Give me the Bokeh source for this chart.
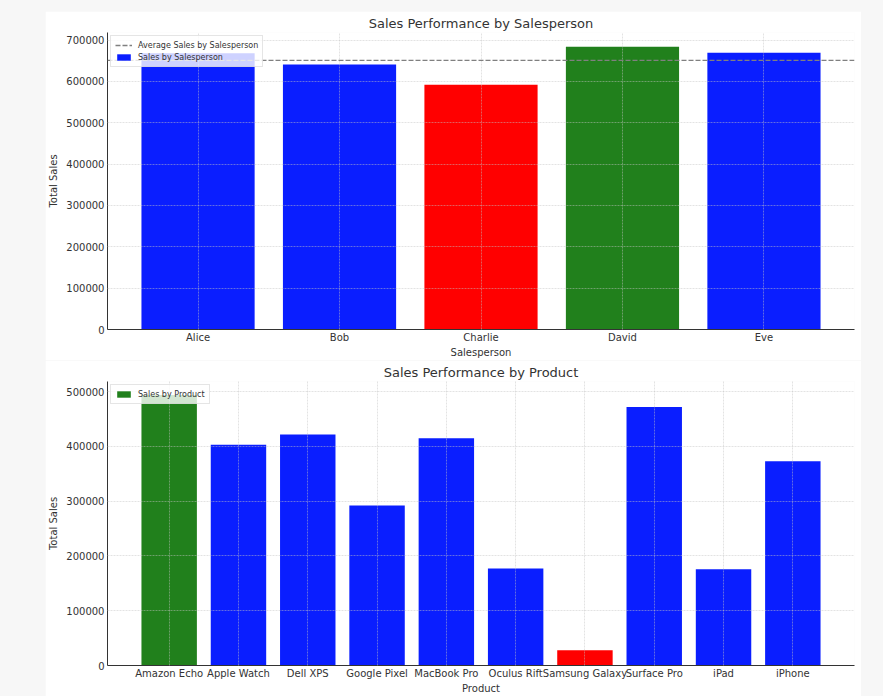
from bokeh.plotting import figure
from bokeh.models import (FactorRange, Range1d, Span, Legend, LegendItem,
                          FixedTicker, BasicTickFormatter)
from bokeh.layouts import column
from bokeh.embed import file_html
from bokeh.resources import INLINE

# ---------------- data ----------------
salespeople = ["Alice", "Bob", "Charlie", "David", "Eve"]
salesperson_sales = [668000, 641000, 592000, 684000, 669000]

products = ["Amazon Echo", "Apple Watch", "Dell XPS", "Google Pixel", "MacBook Pro",
            "Oculus Rift", "Samsung Galaxy", "Surface Pro", "iPad", "iPhone"]
product_sales = [494000, 403000, 422000, 292000, 415000,
                 177000, 28000, 472000, 176000, 373000]

top_y_ticks = [0, 100000, 200000, 300000, 400000, 500000, 600000, 700000]
bottom_y_ticks = [0, 100000, 200000, 300000, 400000, 500000]

# ---------------- style ----------------
BLUE = "#0a1eff"
GREEN = "#21801c"
RED = "#ff0000"
TEXT = "#333333"
FONT = "DejaVu Sans"


def bar_colors(vals):
    hi, lo = max(vals), min(vals)
    return [GREEN if v == hi else (RED if v == lo else BLUE) for v in vals]


def make_fig(cats, vals, ticks, title, xlabel, height, min_top, min_bottom):
    n = len(cats)
    margin = 0.05 * (n - 1 + 0.8)
    xr = FactorRange(factors=cats, range_padding=margin - 0.1,
                     range_padding_units="absolute")
    yr = Range1d(0, max(vals) * 1.05)
    p = figure(width=816, height=height, x_range=xr, y_range=yr,
               output_backend="svg", toolbar_location=None,
               min_border_left=60, min_border_right=7,
               min_border_top=min_top, min_border_bottom=min_bottom,
               background_fill_color="white", border_fill_color="white")
    p.outline_line_color = None
    p.title.text = title
    p.title.align = "center"
    p.title.text_font = FONT
    p.title.text_font_size = "13px"
    p.title.text_font_style = "normal"
    p.title.text_color = TEXT
    p.title.standoff = 4

    for ax in (p.xaxis, p.yaxis):
        ax.axis_line_color = "#333333"
        ax.axis_line_width = 1
        ax.major_tick_out = 0
        ax.major_tick_in = 0
        ax.minor_tick_out = 0
        ax.minor_tick_in = 0
        ax.major_label_text_font = FONT
        ax.major_label_text_font_size = "10px"
        ax.major_label_text_color = TEXT
        ax.axis_label_text_font = FONT
        ax.axis_label_text_font_size = "10px"
        ax.axis_label_text_font_style = "normal"
        ax.axis_label_text_color = TEXT
        ax.major_label_standoff = 2
        ax.axis_label_standoff = 1
    p.yaxis.major_label_standoff = 3
    p.yaxis.axis_label_standoff = 4

    p.yaxis.ticker = FixedTicker(ticks=ticks)
    p.yaxis.formatter = BasicTickFormatter(use_scientific=False)
    p.yaxis.axis_label = "Total Sales"
    p.xaxis.axis_label = xlabel

    for g in (p.xgrid, p.ygrid):
        g.grid_line_color = "#c4c4c4"
        g.grid_line_alpha = 0.6
        g.grid_line_dash = "2 1"
        g.grid_line_width = 0.8
        g.level = "annotation"

    r = p.vbar(x=cats, top=vals, width=0.8, fill_color=bar_colors(vals),
               line_color=None)
    return p, r


def style_legend(leg):
    leg.location = "top_left"
    leg.margin = 3
    leg.padding = 4
    leg.spacing = 2
    leg.label_text_font = FONT
    leg.label_text_font_size = "8px"
    leg.label_text_color = TEXT
    leg.label_height = 10
    leg.glyph_height = 8
    leg.glyph_width = 17
    leg.label_standoff = 6
    leg.background_fill_alpha = 0.8
    leg.border_line_color = "#cccccc"
    leg.border_line_width = 1


# ---------------- top chart ----------------
p1, r1 = make_fig(salespeople, salesperson_sales, top_y_ticks,
                  "Sales Performance by Salesperson", "Salesperson",
                  349, 20, 29)
avg = sum(salesperson_sales) / len(salesperson_sales)
span = Span(location=avg, dimension="width", line_color="#808080",
            line_dash="5 2", line_width=1.3)
p1.add_layout(span)
# single-point line: draws no segment, only supplies the legend glyph
avg_proxy = p1.line(x=[salespeople[0]], y=[avg], line_color="#808080",
                    line_dash="5 2", line_width=1.3)
leg1 = Legend(items=[
    LegendItem(label="Average Sales by Salesperson", renderers=[avg_proxy]),
    LegendItem(label="Sales by Salesperson", renderers=[r1], index=0),
])
style_legend(leg1)
p1.add_layout(leg1, "center")

# ---------------- bottom chart ----------------
p2, r2 = make_fig(products, product_sales, bottom_y_ticks,
                  "Sales Performance by Product", "Product",
                  336, 21, 18)
leg2 = Legend(items=[LegendItem(label="Sales by Product", renderers=[r2], index=0)])
style_legend(leg2)
p2.add_layout(leg2, "center")

p1.margin = (11, 22, 0, 45)
p2.margin = (0, 22, 0, 45)

layout = column(p1, p2, spacing=0, styles={"background-color": "#f7f7f7"})

open("out.html", "w").write(file_html(layout, INLINE))
